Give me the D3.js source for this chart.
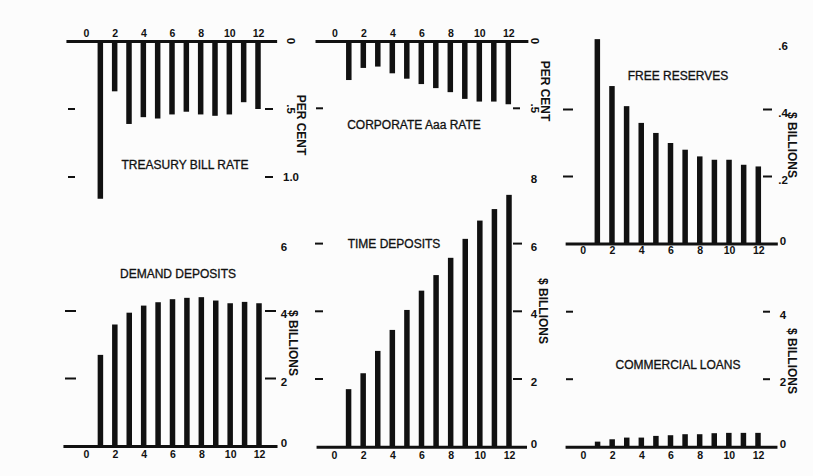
<!DOCTYPE html>
<html>
<head>
<meta charset="utf-8">
<script src="https://cdn.jsdelivr.net/npm/d3@7"></script>
<style>
  html, body { margin: 0; padding: 0; background: #fcfcfc; }
  svg { display: block; }
  .tick-lbl { font-family: "Liberation Sans", Arial, sans-serif; font-weight: bold; font-size: 10.5px; fill: #111; }
  .val-lbl { font-family: "Liberation Sans", Arial, sans-serif; font-weight: bold; font-size: 11.5px; fill: #111; }
  .unit-lbl { font-family: "Liberation Sans", Arial, sans-serif; font-weight: bold; font-size: 12px; fill: #111; }
  .title { font-family: "Liberation Sans", Arial, sans-serif; font-size: 12px; fill: #111; stroke: #111; stroke-width: 0.3px; }
</style>
</head>
<body>
<svg id="chart"></svg>
<script>
// months after the change, 1..12
var months = [1, 2, 3, 4, 5, 6, 7, 8, 9, 10, 11, 12];
var monthTicks = [0, 2, 4, 6, 8, 10, 12];

// values
var treasuryBill    = [1.16, 0.37, 0.61, 0.56, 0.57, 0.54, 0.52, 0.54, 0.55, 0.54, 0.45, 0.50];
var corporateAaa    = [0.29, 0.20, 0.19, 0.24, 0.28, 0.32, 0.35, 0.38, 0.43, 0.45, 0.45, 0.47];
var freeReserves    = [0.61, 0.47, 0.41, 0.36, 0.33, 0.30, 0.28, 0.26, 0.25, 0.25, 0.235, 0.23];
var demandDeposits  = [2.70, 3.60, 3.95, 4.16, 4.26, 4.35, 4.39, 4.41, 4.31, 4.23, 4.27, 4.23];
var timeDeposits    = [1.70, 2.17, 2.83, 3.45, 4.04, 4.61, 5.07, 5.58, 6.14, 6.68, 7.02, 7.44];
var commercialLoans = [0.15, 0.22, 0.27, 0.27, 0.32, 0.34, 0.37, 0.37, 0.40, 0.41, 0.41, 0.41];

// axis tick values and their labels
var tbTicks = [0.5, 1.0];
var tbLabels = [{v: 0, t: "0", rot: true}, {v: 0.5, t: ".5", rot: true}, {v: 1.0, t: "1.0", rot: false}];
var aaaTicks = [0.5];
var aaaLabels = [{v: 0, t: "0", rot: true}, {v: 0.5, t: ".5", rot: true}];
var frTicks = [0.2, 0.4];
var frLabels = [{v: 0.6, t: ".6"}, {v: 0.4, t: ".4"}, {v: 0.2, t: ".2"}, {v: 0, t: "0"}];
var ddTicks = [2, 4];
var ddLabels = [{v: 6, t: "6"}, {v: 4, t: "4"}, {v: 2, t: "2"}, {v: 0, t: "0"}];
var tdTicks = [2, 4, 6];
var tdLabels = [{v: 8, t: "8"}, {v: 6, t: "6"}, {v: 4, t: "4"}, {v: 2, t: "2"}, {v: 0, t: "0"}];
var clTicks = [2, 4];
var clLabels = [{v: 4, t: "4"}, {v: 2, t: "2"}, {v: 0, t: "0"}];

var width = 813, height = 476;
var svg = d3.select("#chart").attr("width", width).attr("height", height);

var panels = [
  {title: "TREASURY BILL RATE", data: treasuryBill, down: true,
   x0: 86, x12: 258, lo: -1.4, hi: 13.3, base: 41, vmax: 1.0, yMax: 177,
   ticks: tbTicks, labels: tbLabels, lt: [68, 75], rt: [265, 273], lblX: 291,
   unit: "PER CENT", unitX: 301, unitY: 125, tx: 185, ty: 165},
  {title: "CORPORATE Aaa RATE", data: corporateAaa, down: true,
   x0: 334.3, x12: 508.3, lo: -1.33, hi: 13.35, base: 41, vmax: 0.5, yMax: 108.3,
   ticks: aaaTicks, labels: aaaLabels, lt: [316, 323], rt: [513, 520], lblX: 535,
   unit: "PER CENT", unitX: 545, unitY: 91, tx: 414, ty: 125},
  {title: "FREE RESERVES", data: freeReserves, down: false,
   x0: 582.7, x12: 758.3, lo: -1.2, hi: 13.3, base: 243.5, vmax: 0.6, yMax: 42.5,
   ticks: frTicks, labels: frLabels, lt: [563, 573], rt: [763, 772], lblX: 783,
   unit: "$ BILLIONS", unitX: 792, unitY: 145, tx: 678, ty: 76, lblDy: 7},
  {title: "DEMAND DEPOSITS", data: demandDeposits, down: false,
   x0: 86, x12: 259, lo: -1.6, hi: 13.25, base: 446, vmax: 6, yMax: 243.5,
   ticks: ddTicks, labels: ddLabels, lt: [65, 76], rt: [265, 276], lblX: 284,
   unit: "$ BILLIONS", unitX: 293, unitY: 343, tx: 178, ty: 274, lblDy: 9},
  {title: "TIME DEPOSITS", data: timeDeposits, down: false,
   x0: 334, x12: 509, lo: -1.23, hi: 13.2, base: 446.7, vmax: 8, yMax: 175.9,
   ticks: tdTicks, labels: tdLabels, lt: [315, 323], rt: [513, 522], lblX: 534,
   unit: "$ BILLIONS", unitX: 543, unitY: 311, tx: 394, ty: 244, lblDy: 9},
  {title: "COMMERCIAL LOANS", data: commercialLoans, down: false,
   x0: 583, x12: 758, lo: -1.23, hi: 13.3, base: 446.7, vmax: 4, yMax: 311.7,
   ticks: clTicks, labels: clLabels, lt: [566, 573], rt: [763, 770], lblX: 783,
   unit: "$ BILLIONS", unitX: 792, unitY: 361, tx: 678, ty: 365, lblDy: 9}
];

panels.forEach(function (p) {
  var unitW = (p.x12 - p.x0) / 12;
  var x = d3.scaleLinear()
      .domain([p.lo, p.hi])
      .range([p.x0 + p.lo * unitW, p.x0 + p.hi * unitW]);
  var y = d3.scaleLinear().domain([0, p.vmax]).range([p.base, p.yMax]);

  var g = svg.append("g");

  // bars
  g.selectAll(".bar")
    .data(months)
    .enter().append("rect")
    .attr("class", "bar")
    .attr("x", function (d) { return x(d) - 2.75; })
    .attr("width", 5.5)
    .attr("y", function (d, i) { return p.down ? p.base : y(p.data[i]); })
    .attr("height", function (d, i) { return Math.abs(y(p.data[i]) - p.base); })
    .attr("fill", "#111");

  // month axis, top for the rate panels, bottom for the rest
  var axis = (p.down ? d3.axisTop(x) : d3.axisBottom(x))
      .tickValues(monthTicks)
      .tickSize(0)
      .tickSizeOuter(0)
      .tickPadding(p.down ? 4 : (p.lblDy || 9) - 4);
  var ax = g.append("g")
      .attr("transform", "translate(0," + p.base + ")")
      .call(axis);
  ax.select(".domain").attr("stroke", "#111").attr("stroke-width", 3);
  ax.selectAll(".tick text").attr("class", "tick-lbl").attr("font-size", null).attr("font-family", null);

  // detached tick marks on both sides
  g.selectAll(".lt")
    .data(p.ticks)
    .enter().append("line")
    .attr("x1", p.lt[0]).attr("x2", p.lt[1])
    .attr("y1", function (d) { return y(d); })
    .attr("y2", function (d) { return y(d); })
    .attr("stroke", "#111").attr("stroke-width", 2);
  g.selectAll(".rt")
    .data(p.ticks)
    .enter().append("line")
    .attr("x1", p.rt[0]).attr("x2", p.rt[1])
    .attr("y1", function (d) { return y(d); })
    .attr("y2", function (d) { return y(d); })
    .attr("stroke", "#111").attr("stroke-width", 2);

  // value labels at right
  g.selectAll(".val-lbl")
    .data(p.labels)
    .enter().append("text")
    .attr("class", "val-lbl")
    .attr("text-anchor", "middle")
    .attr("dominant-baseline", "central")
    .attr("transform", function (d) {
      var yy = y(d.v) + (p.down ? 0 : (d.v === 0 ? -3 : 3));
      return "translate(" + p.lblX + "," + yy + ")" + (d.rot ? " rotate(90)" : "");
    })
    .text(function (d) { return d.t; });

  // unit label
  g.append("text")
    .attr("class", "unit-lbl")
    .attr("text-anchor", "middle")
    .attr("dominant-baseline", "central")
    .attr("transform", "translate(" + p.unitX + "," + p.unitY + ") rotate(90)")
    .text(p.unit);

  // panel title
  g.append("text")
    .attr("class", "title")
    .attr("text-anchor", "middle")
    .attr("dominant-baseline", "central")
    .attr("x", p.tx)
    .attr("y", p.ty)
    .text(p.title);
});
</script>
</body>
</html>
